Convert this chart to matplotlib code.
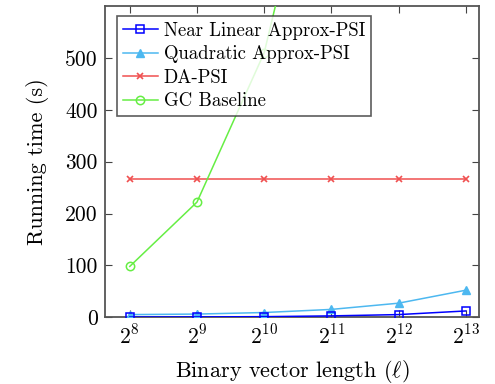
import matplotlib
matplotlib.use("Agg")
import matplotlib.pyplot as plt
from matplotlib.ticker import FixedLocator, FixedFormatter, NullLocator

plt.rcParams['font.family'] = ['cmr10', 'DejaVu Serif']
plt.rcParams['mathtext.fontset'] = 'cm'
plt.rcParams['axes.formatter.use_mathtext'] = True

exponents = [8, 9, 10, 11, 12, 13]
x_vals = [2 ** e for e in exponents]
x_labels = [r'$2^{8}$', r'$2^{9}$', r'$2^{10}$', r'$2^{11}$', r'$2^{12}$', r'$2^{13}$']

near_linear = [0.3, 0.5, 1.0, 2.5, 5.0, 12.0]
quadratic = [5.0, 6.0, 9.0, 15.0, 27.0, 52.0]
da_psi = [266, 266, 266, 266, 266, 266]
gc_baseline = [98, 222, 510, 1050, 2100, 4200]

y_ticks = [0, 100, 200, 300, 400, 500]

fig = plt.figure(figsize=(4.95, 3.84), dpi=100)
ax = fig.add_axes([0.212, 0.174, 0.756, 0.810])

ax.plot(x_vals, near_linear, color='#0000ff', lw=1.1, marker='s', ms=6,
        mfc='none', mec='#0000ff', mew=1.1, label='Near Linear Approx-PSI', zorder=4)
ax.plot(x_vals, quadratic, color='#4db8f0', lw=1.1, marker='^', ms=5.5,
        mfc='#4db8f0', mec='#4db8f0', label='Quadratic Approx-PSI', zorder=3)
ax.plot(x_vals, da_psi, color='#f05050', lw=1.1, marker='x', ms=4.5,
        mew=1.2, label='DA-PSI', zorder=3)
ax.plot(x_vals, gc_baseline, color='#66ee44', lw=1.1, marker='o', ms=6,
        mfc='none', mec='#66ee44', mew=1.1, label='GC Baseline', zorder=3)

ax.set_xscale('log', base=2)
ax.set_xlim(2 ** 7.63, 2 ** 13.2)
ax.set_ylim(0, 600)
ax.xaxis.set_major_locator(FixedLocator(x_vals))
ax.xaxis.set_major_formatter(FixedFormatter(x_labels))
ax.xaxis.set_minor_locator(NullLocator())
ax.set_yticks(y_ticks)
ax.set_yticklabels([str(v) for v in y_ticks])

ax.tick_params(direction='in', length=5, width=0.8, color='#444444',
               top=True, right=True, labelsize=15.5, pad=5)

for s in ax.spines.values():
    s.set_color('#555555')
    s.set_linewidth(1.3)

ax.set_xlabel(r'Binary vector length ($\ell$)', fontsize=16, labelpad=7)
ax.set_ylabel('Running time (s)', fontsize=16, labelpad=12)

leg = ax.legend(loc='upper left', bbox_to_anchor=(0.032, 0.968), fontsize=13.5,
                frameon=True, fancybox=False, edgecolor='#333333',
                handlelength=1.9, handletextpad=0.3, borderpad=0.3,
                labelspacing=0.3, borderaxespad=0.0)
leg.get_frame().set_linewidth(1.2)

fig.savefig('out.png', dpi=100)
